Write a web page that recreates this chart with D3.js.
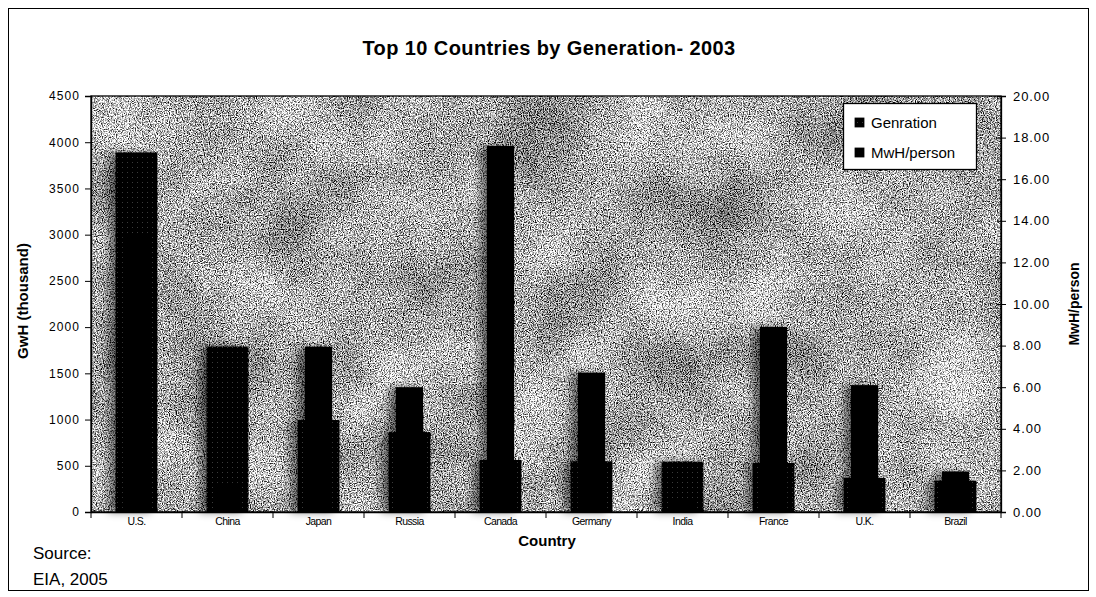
<!DOCTYPE html>
<html>
<head>
<meta charset="utf-8">
<script src="https://cdn.jsdelivr.net/npm/d3@7"></script>
<style>
  html, body { margin: 0; padding: 0; background: #fff; }
  svg { display: block; font-family: "Liberation Sans", Arial, sans-serif; }
</style>
</head>
<body>
<svg id="chart" width="1096" height="597"></svg>
<script>
// Electricity generation and per-capita use, top 10 countries, 2003
const countries = ["U.S.", "China", "Japan", "Russia", "Canada", "Germany", "India", "France", "U.K.", "Brazil"];
const generation = [3890, 1790, 995, 865, 563, 548, 545, 530, 370, 340];      // GwH (thousand)
const mwhPerPerson = [13.4, 1.4, 7.95, 6.0, 17.6, 6.7, 0.5, 8.9, 6.1, 1.95];   // MwH/person
const genTicks = [0, 500, 1000, 1500, 2000, 2500, 3000, 3500, 4000, 4500];
const mwhTicks = [0, 2, 4, 6, 8, 10, 12, 14, 16, 18, 20];
const seriesNames = ["Genration", "MwH/person"];

const svg = d3.select("#chart");
const plot = { left: 91, right: 1001, top: 96, bottom: 512 };

const defs = svg.append("defs");

// speckled texture for the plot area
const grain = defs.append("filter")
  .attr("id", "grain").attr("x", 0).attr("y", 0).attr("width", "100%").attr("height", "100%")
  .attr("color-interpolation-filters", "sRGB");
grain.append("feTurbulence").attr("type", "fractalNoise").attr("baseFrequency", 0.85)
  .attr("numOctaves", 2).attr("seed", 4).attr("result", "fine");
grain.append("feColorMatrix").attr("in", "fine").attr("type", "matrix")
  .attr("values", "2.6 0 0 0 -0.62  2.6 0 0 0 -0.62  2.6 0 0 0 -0.62  0 0 0 0 1").attr("result", "fineG");
grain.append("feTurbulence").attr("type", "fractalNoise").attr("baseFrequency", 0.012)
  .attr("numOctaves", 3).attr("seed", 11).attr("result", "coarse");
grain.append("feColorMatrix").attr("in", "coarse").attr("type", "matrix")
  .attr("values", "1 0 0 0 0  1 0 0 0 0  1 0 0 0 0  0 0 0 0 1").attr("result", "coarseG");
grain.append("feComposite").attr("in", "fineG").attr("in2", "coarseG").attr("operator", "arithmetic")
  .attr("k1", 0).attr("k2", 1).attr("k3", 0.55).attr("k4", -0.28);

// soft shadow to the left of the bars
const shade = defs.append("filter").attr("id", "shade")
  .attr("x", "-50%").attr("y", "-5%").attr("width", "200%").attr("height", "110%");
shade.append("feGaussianBlur").attr("stdDeviation", 4);

// dotted dark fill for the generation series
const pat = defs.append("pattern").attr("id", "genFill")
  .attr("width", 5).attr("height", 5).attr("patternUnits", "userSpaceOnUse");
pat.append("rect").attr("width", 5).attr("height", 5).attr("fill", "#000");
pat.append("rect").attr("x", 2).attr("y", 2).attr("width", 1).attr("height", 1).attr("fill", "#3a3a3a");

// outer frame
svg.append("rect").attr("x", 8.5).attr("y", 8.5).attr("width", 1080).attr("height", 582)
  .attr("fill", "#fff").attr("stroke", "#000").attr("stroke-width", 1);

// scales
const x = d3.scaleBand().domain(countries).range([plot.left, plot.right]).padding(0);
const yGen = d3.scaleLinear().domain([0, 4500]).range([plot.bottom, plot.top]);
const yMwh = d3.scaleLinear().domain([0, 20]).range([plot.bottom, plot.top]);

// plot background
svg.append("rect")
  .attr("x", plot.left).attr("y", plot.top)
  .attr("width", plot.right - plot.left).attr("height", plot.bottom - plot.top)
  .attr("filter", "url(#grain)");

const rows = countries.map((c, i) => ({ c, gen: generation[i], mwh: mwhPerPerson[i] }));
const genW = x.bandwidth() * 0.46;
const mwhW = x.bandwidth() * 0.30;

// shadows
const shadowG = svg.append("g").attr("filter", "url(#shade)").attr("opacity", 0.5)
  .attr("transform", "translate(-7,0)");
shadowG.selectAll("rect.g").data(rows).join("rect")
  .attr("x", d => x(d.c) + (x.bandwidth() - genW) / 2)
  .attr("y", d => yGen(d.gen)).attr("width", genW)
  .attr("height", d => plot.bottom - yGen(d.gen)).attr("fill", "#000");
shadowG.selectAll("rect.m").data(rows).join("rect")
  .attr("x", d => x(d.c) + (x.bandwidth() - mwhW) / 2)
  .attr("y", d => yMwh(d.mwh)).attr("width", mwhW)
  .attr("height", d => plot.bottom - yMwh(d.mwh)).attr("fill", "#000");

// generation bars (primary axis)
svg.append("g").selectAll("rect").data(rows).join("rect")
  .attr("x", d => x(d.c) + (x.bandwidth() - genW) / 2)
  .attr("y", d => yGen(d.gen))
  .attr("width", genW)
  .attr("height", d => plot.bottom - yGen(d.gen))
  .attr("fill", "url(#genFill)");

// MwH/person bars (secondary axis)
svg.append("g").selectAll("rect").data(rows).join("rect")
  .attr("x", d => x(d.c) + (x.bandwidth() - mwhW) / 2)
  .attr("y", d => yMwh(d.mwh))
  .attr("width", mwhW)
  .attr("height", d => plot.bottom - yMwh(d.mwh))
  .attr("fill", "#000");

// plot border
svg.append("rect")
  .attr("x", plot.left).attr("y", plot.top)
  .attr("width", plot.right - plot.left).attr("height", plot.bottom - plot.top)
  .attr("fill", "none").attr("stroke", "#000").attr("stroke-width", 1.3);

// left axis
const axL = svg.append("g").attr("transform", `translate(${plot.left},0)`)
  .call(d3.axisLeft(yGen).tickValues(genTicks).tickFormat(d3.format("d")).tickSize(6).tickPadding(5));
axL.select(".domain").attr("stroke-width", 1.3);
axL.selectAll("text").attr("font-size", 12).attr("letter-spacing", 1.1).attr("fill", "#000");

// right axis
const axR = svg.append("g").attr("transform", `translate(${plot.right},0)`)
  .call(d3.axisRight(yMwh).tickValues(mwhTicks).tickFormat(d3.format(".2f")).tickSize(5).tickPadding(7));
axR.select(".domain").attr("stroke-width", 1.3);
axR.selectAll(".tick line").attr("x1", -4);
axR.selectAll("text").attr("font-size", 13).attr("letter-spacing", 0.9).attr("fill", "#000");

// category axis
const axB = svg.append("g").attr("transform", `translate(0,${plot.bottom})`)
  .call(d3.axisBottom(x).tickSize(0).tickPadding(0));
axB.select(".domain").attr("stroke-width", 1.3);
axB.selectAll("text").attr("font-size", 10.5).attr("letter-spacing", -0.6)
  .attr("dy", 0).attr("y", 13).attr("fill", "#000");
svg.append("g").selectAll("line")
  .data(countries.map(c => x(c)).concat([plot.right]))
  .join("line")
  .attr("x1", d => d).attr("x2", d => d)
  .attr("y1", plot.bottom).attr("y2", plot.bottom + 6)
  .attr("stroke", "#000").attr("stroke-width", 1);

// titles
svg.append("text").attr("x", 549).attr("y", 55).attr("text-anchor", "middle")
  .attr("font-size", 20).attr("font-weight", "bold").attr("letter-spacing", 0.4)
  .text("Top 10 Countries by Generation- 2003");
svg.append("text").attr("transform", "translate(28,301) rotate(-90)").attr("text-anchor", "middle")
  .attr("font-size", 15).attr("font-weight", "bold").text("GwH (thousand)");
svg.append("text").attr("transform", "translate(1079,304) rotate(-90)").attr("text-anchor", "middle")
  .attr("font-size", 14).attr("font-weight", "bold").text("MwH/person");
svg.append("text").attr("x", 547).attr("y", 546).attr("text-anchor", "middle")
  .attr("font-size", 15).attr("font-weight", "bold").text("Country");

// source note
svg.append("text").attr("x", 33).attr("y", 559).attr("font-size", 17).text("Source:");
svg.append("text").attr("x", 33).attr("y", 585).attr("font-size", 17).text("EIA, 2005");

// legend
const lg = svg.append("g");
lg.append("rect").attr("x", 843.5).attr("y", 103.5).attr("width", 133).attr("height", 66)
  .attr("fill", "#fff").attr("stroke", "#000").attr("stroke-width", 1.3);
const legendFills = ["url(#genFill)", "#000"];
seriesNames.forEach((name, i) => {
  const yy = 118 + i * 30;
  lg.append("rect").attr("x", 855).attr("y", yy).attr("width", 9).attr("height", 9)
    .attr("fill", legendFills[i]).attr("stroke", "#000").attr("stroke-width", 0.8);
  lg.append("text").attr("x", 871).attr("y", yy + 9.5).attr("font-size", 15).text(name);
});
</script>
</body>
</html>
